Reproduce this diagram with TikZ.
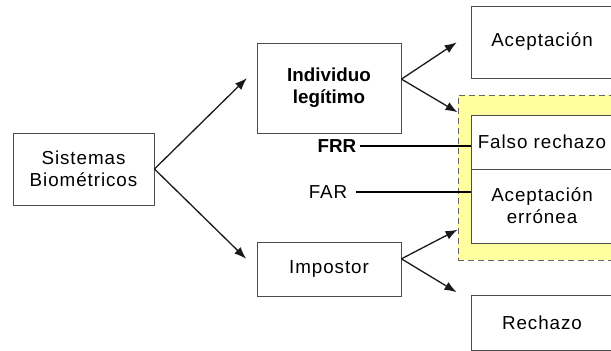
\documentclass[tikz,border=0pt]{standalone}
\usepackage{fontspec}
\setmainfont{Liberation Sans}[LetterSpace=5,BoldFeatures={LetterSpace=0}]
\usetikzlibrary{arrows.meta}
\definecolor{palesun}{RGB}{255,255,160}

\begin{document}
\begin{tikzpicture}[x=1pt, y=-1pt,
  every node/.style = {align=center, inner sep=0pt,
    font=\fontsize{18.8}{22}\selectfont}]
    \tikzstyle{box}=[shape=rectangle, draw=black!70, line width=0.9pt, fill=white]
    \tikzstyle{arrow}=[-{Latex[length=12pt,width=9pt]}, line width=1.3pt, black!90]
  \useasboundingbox (0,0) rectangle (611,351);
  % left and middle column
  \node [box, minimum width=141pt, minimum height=72pt] (sis) at (83.5,169) {Sistemas\\Biométricos};
  \node [box, minimum width=144pt, minimum height=90pt] (ind) at (329,88) {\bfseries Individuo\\\bfseries legítimo};
  \node [box, minimum width=144pt, minimum height=54pt] (imp) at (329,269) {Impostor};
  % right column
  \node [box, minimum width=142pt, minimum height=72pt] (acc) at (542,42) {Aceptación};
  \node [box, fill=palesun, draw=black!60, dash pattern=on 6pt off 4pt,
    minimum width=166pt, minimum height=165pt] (yel) at (541,177.5) {};
  \node [box, minimum width=142pt, minimum height=54pt] (fr) at (542,142) {Falso rechazo};
  \node [box, minimum width=142pt, minimum height=74pt] (ae) at (542,206) {Aceptación\\errónea};
  \node [box, minimum width=142pt, minimum height=55pt] (rec) at (542,322.5) {Rechazo};
  % rates
  \node (frr) at (337,146) {\bfseries FRR};
  \node (far) at (328,192) {FAR};
  \draw [line width=1.2pt, shorten <=3pt] (frr.east) -- (frr.east -| fr.west);
  \draw [line width=1.2pt, shorten <=9pt] (far.east) -- (far.east -| ae.west);
  % arrows
  \draw [arrow, shorten >=13.6pt] (sis.east) -- (ind.165.5);
  \draw [arrow, shorten >=14.6pt] (sis.east) -- (imp.west);
  \draw [arrow, shorten >=16.6pt] (ind.7) -- (acc.173.5);
  \draw [arrow] (ind.7) -- (yel.142);
  \draw [arrow] (imp.8) -- (yel.212.6);
  \draw [arrow, shorten >=16.4pt] (imp.8) -- (rec.163.3);
\end{tikzpicture}
\end{document}
